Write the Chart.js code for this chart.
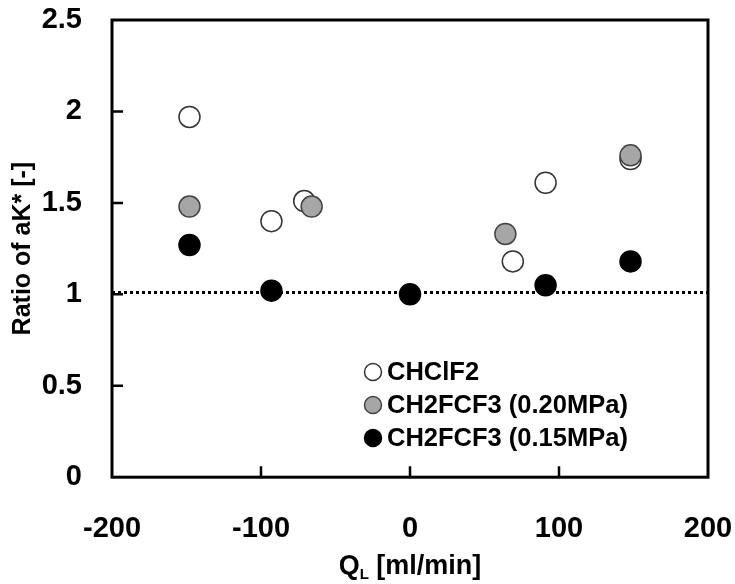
<!DOCTYPE html>
<html>
<head>
<meta charset="utf-8">
<script src="https://cdn.jsdelivr.net/npm/chart.js@4.4.1/dist/chart.umd.min.js"></script>
<style>
  html, body { margin: 0; padding: 0; background: #fff; overflow: hidden; }
  #wrap { width: 735px; height: 584px; position: relative; }
</style>
</head>
<body>
<div id="wrap"><canvas id="c"></canvas></div>
<script>
// ---- data ----
const seriesNames = ["CHClF2", "CH2FCF3 (0.20MPa)", "CH2FCF3 (0.15MPa)"];
const chclf2X = [-148, -93, -71, 69, 91, 148];
const chclf2Y = [1.97, 1.40, 1.51, 1.18, 1.61, 1.74];
const r134a020X = [-148, -66, 64, 148];
const r134a020Y = [1.48, 1.48, 1.33, 1.76];
const r134a015X = [-148, -93, 0, 91, 148];
const r134a015Y = [1.27, 1.02, 1.00, 1.05, 1.18];
const refLineX = [-200, 200];
const refLineY = [1.01, 1.01];
const xTickValues = [-100, 0, 100];
const yTickValues = [0.5, 1, 1.5, 2];
const xTitleMain = "Q";
const xTitleSub = "L";
const xTitleRest = " [ml/min]";
const yTitle = "Ratio of aK* [-]";

const FONT = "'Liberation Sans', Arial, sans-serif";
const pts = (xs, ys) => xs.map((x, i) => ({ x: x, y: ys[i] }));

const styles = [
  { bg: "#ffffff", border: "#333333" },
  { bg: "#a6a6a6", border: "#444444" },
  { bg: "#000000", border: "#000000" }
];

const framePlugin = {
  id: "frame",
  beforeDatasetsDraw(chart) {
    const { ctx, chartArea: a, scales } = chart;
    ctx.save();
    ctx.strokeStyle = "#000";
    ctx.lineWidth = 3;
    ctx.strokeRect(a.left, a.top, a.right - a.left, a.bottom - a.top);
    ctx.lineWidth = 2.5;
    ctx.beginPath();
    yTickValues.forEach(v => {
      const y = scales.y.getPixelForValue(v);
      ctx.moveTo(a.left, y); ctx.lineTo(a.left + 11, y);
    });
    xTickValues.forEach(v => {
      const x = scales.x.getPixelForValue(v);
      ctx.moveTo(x, a.bottom); ctx.lineTo(x, a.bottom - 11);
    });
    ctx.stroke();
    ctx.restore();
  },
  afterDraw(chart) {
    const { ctx, chartArea: a } = chart;
    ctx.save();
    // legend inside plot
    const lx = a.left + 261, ly0 = a.top + 352, dy = 33;
    for (let i = 0; i < 3; i++) {
      const y = ly0 + i * dy;
      ctx.beginPath();
      ctx.arc(lx, y, 8.5, 0, Math.PI * 2);
      ctx.fillStyle = styles[i].bg; ctx.fill();
      ctx.lineWidth = 1.5; ctx.strokeStyle = styles[i].border; ctx.stroke();
      ctx.fillStyle = "#000";
      ctx.font = "bold 25.5px " + FONT;
      ctx.textAlign = "left"; ctx.textBaseline = "middle";
      ctx.fillText(chart.data.datasets[i].label, lx + 14, y + 1);
    }
    // x axis title with subscript
    const cx = (a.left + a.right) / 2;
    const by = a.bottom + 97;
    ctx.textBaseline = "alphabetic";
    ctx.font = "bold 27px " + FONT;
    const w1 = ctx.measureText(xTitleMain).width;
    const w3 = ctx.measureText(xTitleRest).width;
    ctx.font = "bold 15px " + FONT;
    const w2 = ctx.measureText(xTitleSub).width;
    let x = cx - (w1 + w2 + w3) / 2;
    ctx.font = "bold 27px " + FONT;
    ctx.fillText(xTitleMain, x, by);
    x += w1;
    ctx.font = "bold 15px " + FONT;
    ctx.fillText(xTitleSub, x, by + 5);
    x += w2;
    ctx.font = "bold 27px " + FONT;
    ctx.fillText(xTitleRest, x, by);
    ctx.restore();
  }
};

const pointDs = (i, data, order) => ({
  type: "scatter",
  label: seriesNames[i],
  data: data,
  backgroundColor: styles[i].bg,
  borderColor: styles[i].border,
  borderWidth: 1.5,
  pointRadius: 10.5,
  pointHoverRadius: 10.5,
  order: order
});

new Chart(document.getElementById("c"), {
  type: "scatter",
  data: {
    datasets: [
      pointDs(0, pts(chclf2X, chclf2Y), 3),
      pointDs(1, pts(r134a020X, r134a020Y), 2),
      pointDs(2, pts(r134a015X, r134a015Y), 1),
      {
        type: "line",
        label: "ref",
        data: pts(refLineX, refLineY),
        borderColor: "#000",
        borderWidth: 3,
        borderDash: [3, 3],
        pointRadius: 0,
        fill: false,
        order: 4
      }
    ]
  },
  plugins: [framePlugin],
  options: {
    responsive: true,
    maintainAspectRatio: false,
    animation: false,
    layout: { autoPadding: false, padding: { top: 20, right: 27, bottom: 4, left: 8 } },
    plugins: { legend: { display: false }, tooltip: { enabled: false } },
    scales: {
      x: {
        type: "linear",
        min: -200, max: 200,
        ticks: { stepSize: 100, color: "#000", font: { family: FONT, size: 29, weight: "bold" }, padding: 34, maxRotation: 0, callback: v => String(v) },
        grid: { display: false, drawTicks: false },
        border: { display: false },
        afterFit: s => { s.paddingLeft = 0; s.paddingRight = 0; }
      },
      y: {
        type: "linear",
        min: 0, max: 2.5,
        ticks: { stepSize: 0.5, color: "#000", font: { family: FONT, size: 29, weight: "bold" }, padding: 30, callback: v => String(v) },
        grid: { display: false, drawTicks: false },
        border: { display: false },
        title: { display: true, text: yTitle, color: "#000", font: { family: FONT, size: 25, weight: "bold" }, padding: { top: 0, bottom: 4 } },
        afterFit: s => { s.paddingTop = 0; s.paddingBottom = 0; s.width = 104; }
      }
    }
  }
});
</script>
</body>
</html>
